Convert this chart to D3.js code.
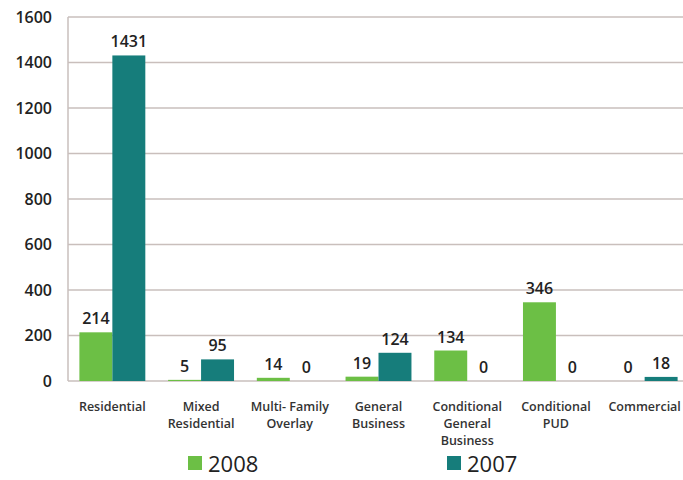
<!DOCTYPE html>
<html>
<head>
<meta charset="utf-8">
<script src="https://cdn.jsdelivr.net/npm/d3@7"></script>
<style>
  body { margin: 0; background: #fff; }
  svg { display: block; overflow: hidden; }
  text { font-family: "Open Sans", "Noto Sans", sans-serif; fill: #222; }
  .tick-y { font-size: 16px; font-weight: 600; }
  .cat { font-size: 12.5px; font-weight: 600; fill: #333; }
  .val { font-size: 16px; font-weight: 600; }
  .legend { font-size: 22px; }
</style>
</head>
<body>
<svg width="683" height="480"></svg>
<script>
  const categories = [
    ['Residential'],
    ['Mixed', 'Residential'],
    ['Multi- Family', 'Overlay'],
    ['General', 'Business'],
    ['Conditional', 'General', 'Business'],
    ['Conditional', 'PUD'],
    ['Commercial']
  ];
  const seriesNames = ['2008', '2007'];
  const values2008 = [214, 5, 14, 19, 134, 346, 0];
  const values2007 = [1431, 95, 0, 124, 0, 0, 18];
  const yTicks = [0, 200, 400, 600, 800, 1000, 1200, 1400, 1600];
  const colors = ['#6cbf45', '#167d7b'];

  const svg = d3.select('svg');
  const margin = { left: 68, top: 17, right: -6, bottom: 99 };
  const width = +svg.attr('width');
  const height = +svg.attr('height');

  const catKeys = categories.map(c => c.join(' '));
  const data = catKeys.map((k, i) => ({ key: k, lines: categories[i], vals: [values2008[i], values2007[i]] }));

  const x0 = d3.scaleBand()
    .domain(catKeys)
    .range([margin.left, width - margin.right])
    .paddingInner(0.257)
    .paddingOuter(0.1285);

  const x1 = d3.scaleBand()
    .domain(seriesNames)
    .range([0, x0.bandwidth()]);

  const y = d3.scaleLinear()
    .domain([0, 1600])
    .range([height - margin.bottom, margin.top]);

  // gridlines
  svg.append('g')
    .selectAll('line').data(yTicks)
    .enter().append('line')
      .attr('x1', margin.left)
      .attr('x2', width - margin.right)
      .attr('y1', d => y(d))
      .attr('y2', d => y(d))
      .attr('stroke', '#c9bfbc')
      .attr('stroke-width', 1.5);

  // left axis line
  svg.append('line')
    .attr('x1', margin.left).attr('x2', margin.left)
    .attr('y1', y(1600)).attr('y2', y(0))
    .attr('stroke', '#c9bfbc')
    .attr('stroke-width', 1.5);

  // y labels
  const yAxis = d3.axisLeft(y).tickValues(yTicks).tickFormat(d3.format('d')).tickSize(0).tickPadding(16);
  const yG = svg.append('g')
    .attr('transform', `translate(${margin.left},0)`)
    .call(yAxis);
  yG.select('.domain').remove();
  yG.selectAll('text').attr('class', 'tick-y').attr('fill', '#222');

  // bars
  const groups = svg.append('g')
    .selectAll('g').data(data)
    .enter().append('g')
      .attr('transform', d => `translate(${x0(d.key)},0)`);

  groups.selectAll('rect')
    .data(d => d.vals.map((v, j) => ({ s: seriesNames[j], v, j })))
    .enter().append('rect')
      .attr('x', d => x1(d.s))
      .attr('y', d => y(d.v))
      .attr('width', x1.bandwidth())
      .attr('height', d => y(0) - y(d.v))
      .attr('fill', d => colors[d.j]);

  groups.selectAll('text.val')
    .data(d => d.vals.map((v, j) => ({ s: seriesNames[j], v, j })))
    .enter().append('text')
      .attr('class', 'val')
      .attr('x', d => x1(d.s) + x1.bandwidth() / 2)
      .attr('y', d => y(d.v) - 8)
      .attr('text-anchor', 'middle')
      .text(d => d.v);

  // category labels
  const catG = svg.append('g')
    .selectAll('text').data(data)
    .enter().append('text')
      .attr('class', 'cat')
      .attr('text-anchor', 'middle')
      .attr('x', d => x0(d.key) + x0.bandwidth() / 2)
      .attr('y', 411);
  catG.selectAll('tspan')
    .data(d => d.lines)
    .enter().append('tspan')
      .attr('x', function() { return d3.select(this.parentNode).attr('x'); })
      .attr('dy', (d, i) => i === 0 ? 0 : 17)
      .text(d => d);

  // legend
  const legendX = [188, 447];
  const legend = svg.append('g')
    .selectAll('g').data(seriesNames)
    .enter().append('g')
      .attr('transform', (d, i) => `translate(${legendX[i]},456)`);
  legend.append('rect')
    .attr('width', 14).attr('height', 14)
    .attr('fill', (d, i) => colors[i]);
  legend.append('text')
    .attr('class', 'legend')
    .attr('x', 20)
    .attr('y', 16)
    .text(d => d);
</script>
</body>
</html>
